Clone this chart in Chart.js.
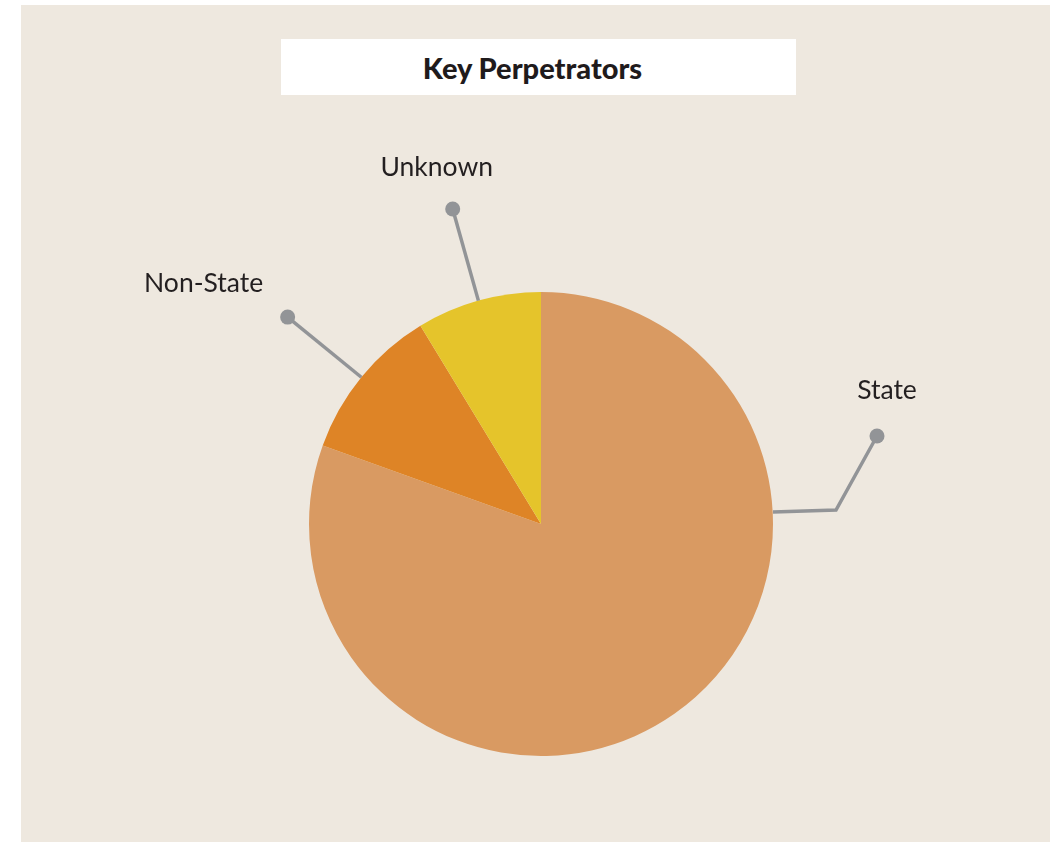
<!DOCTYPE html>
<html>
<head>
<meta charset="utf-8">
<script src="https://cdn.jsdelivr.net/npm/chart.js@4"></script>
<style>
  html, body { margin: 0; padding: 0; background: #fff; }
  #paper {
    position: absolute; left: 21px; top: 5px; width: 1029px; height: 837px;
    background: #eee8df;
  }
  #titleBox {
    position: absolute; left: 281px; top: 39px; width: 503px; height: 56px;
    padding-right: 12px;
    background: #fff; text-align: center; line-height: 58px;
    font-family: Lato, sans-serif; font-weight: 900; font-size: 29px; color: #1f1b1c;
  }
  #wrap { position: absolute; left: 0; top: 0; width: 1054px; height: 842px; }
</style>
</head>
<body>
<div id="paper"></div>
<div id="titleBox">Key Perpetrators</div>
<div id="wrap"><canvas id="piePerpetrators"></canvas></div>
<script>
// Key Perpetrators //

const labels = ['State', 'Non-State', 'Unknown'];
const values = [80.5, 10.8, 8.7];
const colors = ['#d99a62', '#de8426', '#e5c42b'];

// leader line + label plugin
const leaderLabels = {
    id: 'leaderLabels',
    afterDatasetsDraw(chart) {
        const ctx = chart.ctx;
        const arcs = chart.getDatasetMeta(0).data;
        ctx.save();
        ctx.strokeStyle = '#929497';
        ctx.fillStyle = '#929497';
        ctx.lineWidth = 3.5;
        arcs.forEach((arc, i) => {
            const cx = arc.x, cy = arc.y, r = arc.outerRadius;
            let pts;
            if (i === 0) {
                // State: leave the pie at its right side, elbow up to the dot
                const a = 0;
                const sx = cx + r * Math.cos(a), sy = cy + r * Math.sin(a) - 12;
                pts = [[sx, sy], [sx + 63, sy - 2], [sx + 104, sy - 76]];
            } else {
                const a = (arc.startAngle + arc.endAngle) / 2;
                pts = [[cx + r * Math.cos(a), cy + r * Math.sin(a)],
                       [cx + r * 1.41 * Math.cos(a), cy + r * 1.41 * Math.sin(a)]];
            }
            ctx.beginPath();
            ctx.moveTo(pts[0][0], pts[0][1]);
            for (let k = 1; k < pts.length; k++) ctx.lineTo(pts[k][0], pts[k][1]);
            ctx.stroke();
            const dot = pts[pts.length - 1];
            ctx.beginPath();
            ctx.arc(dot[0], dot[1], 7.5, 0, Math.PI * 2);
            ctx.fill();

            const off = [[10, -46], [-84, -34], [-16, -42]][i];
            ctx.save();
            ctx.fillStyle = '#231f20';
            ctx.font = '26.5px Lato, sans-serif';
            ctx.textAlign = 'center';
            ctx.textBaseline = 'middle';
            ctx.fillText(labels[i], dot[0] + off[0], dot[1] + off[1]);
            ctx.restore();
        });
        ctx.restore();
    }
};

const ctxPie = document.getElementById('piePerpetrators').getContext('2d');

const pieChart = new Chart(ctxPie, {
    type: 'pie',
    data: {
        labels: labels,
        datasets: [{
            data: values,
            backgroundColor: colors,
            borderWidth: 0
        }]
    },
    options: {
        responsive: true,
        maintainAspectRatio: false,
        animation: false,
        layout: {
            padding: { top: 292, bottom: 86, left: 309, right: 281 }
        },
        plugins: {
            legend: { display: false },
            tooltip: { enabled: false }
        }
    },
    plugins: [leaderLabels]
});
</script>
</body>
</html>
